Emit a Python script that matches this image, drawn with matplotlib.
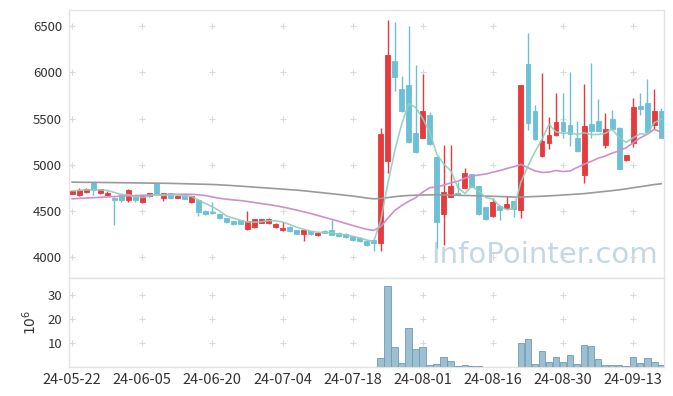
import numpy as np
import pandas as pd
import matplotlib
matplotlib.use("Agg")
import matplotlib.pyplot as plt

plt.rcParams['font.family'] = ['Noto Sans CJK KR', 'DejaVu Sans']

# ---------------- data ----------------
tick_labels = ["24-05-22", "24-06-05", "24-06-20", "24-07-04", "24-07-18",
               "24-08-01", "24-08-16", "24-08-30", "24-09-13"]
tick_index = [0, 10, 20, 30, 40, 50, 60, 70, 80]

open_ = [4686, 4668, 4704, 4805, 4690, 4668, 4639, 4682, 4621, 4668,
         4592, 4657, 4801, 4646, 4693, 4646, 4668, 4592, 4621, 4504,
         4490, 4464, 4420, 4390, 4398, 4310, 4325, 4369, 4372, 4325,
         4292, 4332, 4292, 4255, 4281, 4237, 4281, 4299, 4263, 4255,
         4226, 4208, 4171, 4182, 4151, 5045, 6122, 5819, 5862, 5347,
         5293, 5538, 5088, 4465, 4656, 4692, 4753, 4895, 4770, 4540,
         4443, 4558, 4533, 4605, 4514, 6090, 5583, 5090, 5241, 5317,
         5464, 5432, 5295, 4892, 5443, 5475, 5216, 5496, 5403, 5054,
         5234, 5637, 5673, 5432, 5586]
high = [4730, 4747, 4750, 4810, 4740, 4712, 4650, 4690, 4735, 4675,
        4665, 4700, 4805, 4700, 4700, 4670, 4675, 4665, 4630, 4510,
        4602, 4470, 4425, 4395, 4400, 4500, 4415, 4415, 4427, 4365,
        4380, 4340, 4296, 4305, 4285, 4270, 4290, 4398, 4270, 4260,
        4232, 4215, 4175, 4190, 5394, 6572, 6547, 5960, 6500, 6079,
        5978, 5574, 5090, 5214, 5214, 4818, 4962, 4905, 4775, 4545,
        4640, 4565, 4658, 4610, 5863, 6428, 5645, 5989, 5522, 5781,
        5781, 6007, 5470, 5871, 6097, 5709, 5558, 5594, 5410, 5060,
        5719, 5781, 5924, 5817, 5615]
low = [4680, 4660, 4700, 4675, 4680, 4660, 4350, 4592, 4596, 4600,
       4585, 4650, 4680, 4603, 4640, 4640, 4630, 4585, 4448, 4460,
       4470, 4415, 4375, 4350, 4355, 4292, 4320, 4365, 4354, 4320,
       4288, 4275, 4250, 4171, 4245, 4232, 4258, 4240, 4220, 4212,
       4175, 4165, 4120, 4069, 4072, 4908, 5798, 5575, 5240, 5125,
       5285, 5210, 4097, 4133, 4650, 4670, 4745, 4755, 4460, 4405,
       4440, 4407, 4530, 4440, 4425, 5378, 5270, 5080, 5170, 5310,
       5290, 5198, 5140, 4802, 5290, 5365, 5180, 5380, 4950, 5040,
       5190, 5535, 5355, 5385, 5290]
close = [4718, 4729, 4740, 4722, 4733, 4690, 4621, 4614, 4729, 4614,
         4657, 4693, 4686, 4693, 4646, 4664, 4635, 4657, 4484, 4471,
         4480, 4420, 4380, 4358, 4358, 4387, 4409, 4409, 4409, 4358,
         4318, 4281, 4255, 4299, 4252, 4263, 4263, 4245, 4226, 4219,
         4182, 4171, 4128, 4153, 5333, 6187, 5953, 5585, 5243, 5135,
         5585, 5221, 4386, 4710, 4775, 4674, 4908, 4760, 4468, 4417,
         4594, 4515, 4576, 4525, 5863, 5457, 5277, 5259, 5324, 5464,
         5371, 5331, 5144, 5421, 5371, 5371, 5389, 5385, 4957, 5108,
         5622, 5604, 5360, 5586, 5295]
# volume in millions
volume = [0, 0, 0, 0, 0, 0, 0, 0, 0, 0,
          0, 0, 0, 0, 0, 0, 0, 0, 0, 0,
          0, 0, 0, 0, 0, 0, 0, 0, 0, 0,
          0, 0, 0, 0, 0, 0, 0, 0, 0, 0,
          0, 0, 0, 0, 3.6, 33.7, 8.2, 1.5, 16.1, 7.4,
          8.2, 0.8, 1.1, 4.0, 2.5, 0.3, 0.7, 0.3, 0.3, 0.05,
          0.05, 0.05, 0.05, 0.05, 9.9, 11.5, 1.1, 6.7, 2.1, 4.0,
          2.0, 4.9, 1.1, 9.1, 8.7, 3.2, 0.7, 1.0, 0.8, 0.3,
          4.0, 1.5, 3.6, 2.0, 0.7]
# moving averages (20-day and long-term)
ma20 = [4632, 4636, 4640, 4644, 4648, 4652, 4656, 4660, 4664, 4667,
        4670, 4673, 4676, 4678, 4680, 4681, 4682, 4681, 4676, 4667,
        4652, 4637, 4628, 4620, 4613, 4603, 4592, 4580, 4569, 4558,
        4543, 4527, 4510, 4492, 4473, 4452, 4431, 4410, 4389, 4366,
        4344, 4322, 4302, 4290, 4330, 4420, 4505, 4560, 4605, 4645,
        4705, 4752, 4760, 4780, 4805, 4822, 4855, 4878, 4890, 4900,
        4920, 4938, 4960, 4980, 5005, 4968, 4934, 4917, 4921, 4938,
        4927, 4933, 4971, 5006, 5036, 5071, 5095, 5126, 5151, 5185,
        5237, 5291, 5330, 5383, 5355]
ma60 = [4812, 4811, 4810, 4810, 4809, 4808, 4807, 4806, 4805, 4804,
        4803, 4802, 4801, 4800, 4799, 4797, 4795, 4793, 4791, 4789,
        4787, 4783, 4779, 4774, 4769, 4764, 4758, 4753, 4748, 4742,
        4737, 4731, 4726, 4719, 4711, 4703, 4695, 4687, 4679, 4670,
        4662, 4652, 4640, 4632, 4635, 4645, 4655, 4663, 4668, 4671,
        4673, 4675, 4675, 4674, 4672, 4670, 4668, 4666, 4664, 4661,
        4659, 4657, 4654, 4651, 4650, 4654, 4657, 4660, 4664, 4668,
        4673, 4678, 4683, 4688, 4696, 4704, 4712, 4720, 4729, 4740,
        4752, 4763, 4774, 4786, 4795]

main_yticks = [4000, 4500, 5000, 5500, 6000, 6500]
vol_yticks = [10, 20, 30]

# ---------------- styles ----------------
UP = '#e8393c'
DOWN = '#6cc0d6'
MA5_C = '#8fcfbf'
MA20_C = '#cf8fca'
MA60_C = '#9a9a9a'
GRID_C = '#dadada'
SPINE_C = '#e3e3e3'
TEXT_C = '#333333'

o = np.array(open_, float)
h = np.array(high, float)
l = np.array(low, float)
c = np.array(close, float)
v = np.array(volume, float)
x = np.arange(len(c))
ma5 = pd.Series(c).rolling(5, min_periods=1).mean().values

fig = plt.figure(figsize=(6.73, 3.96), dpi=100)
L, W = 69 / 673, (664 - 69) / 673
ax1 = fig.add_axes([L, 1 - 278 / 396, W, (278 - 10) / 396])
ax2 = fig.add_axes([L, 1 - 367 / 396, W, (367 - 278) / 396], sharex=ax1)

up = c >= o
cols = np.where(up, UP, DOWN)
ax1.vlines(x, l, h, colors=cols, linewidth=1.0, zorder=2)
bottoms = np.minimum(o, c)
heights = np.abs(c - o)
ax1.bar(x, heights, bottom=bottoms, width=0.7, color=cols, edgecolor=cols,
        linewidth=0.6, zorder=3)

ax1.plot(x, ma60, color=MA60_C, lw=1.2, zorder=4)
ax1.plot(x, ma20, color=MA20_C, lw=1.2, zorder=4)
ax1.plot(x, ma5, color=MA5_C, lw=1.2, zorder=4, alpha=0.9)

ax1.set_ylim(3775, 6675)
ax1.set_xlim(-0.45, 84.4)
ax1.set_yticks(main_yticks)
ax1.set_yticklabels([str(t) for t in main_yticks])

ax2.bar(x, v, width=0.95, color='#9cbfd1', edgecolor='#6c9cb6', linewidth=0.6,
        zorder=3)
ax2.set_ylim(0, 37)
ax2.set_yticks(vol_yticks)
ax2.set_yticklabels([str(t) for t in vol_yticks])
ax2.set_ylabel(r'$10^6$', fontsize=10, color=TEXT_C, labelpad=6)
ax2.set_xticks(tick_index)
ax2.set_xticklabels(tick_labels)

# "+" markers at tick intersections
for ax, yt in ((ax1, main_yticks), (ax2, vol_yticks)):
    gx, gy = np.meshgrid(tick_index, yt)
    ax.scatter(gx.ravel(), gy.ravel(), marker='+', s=16, color=GRID_C,
               linewidths=0.8, zorder=1)
    for s in ax.spines.values():
        s.set_color(SPINE_C)
        s.set_linewidth(1.0)
    ax.tick_params(length=0, colors=TEXT_C, labelsize=9.5, pad=5)

ax2.tick_params(axis='x', labelsize=10.5, pad=4)
plt.setp(ax1.get_xticklabels(), visible=False)

ax1.text(0.80, 0.085, 'InfoPointer.com', transform=ax1.transAxes,
         ha='center', va='center', fontsize=21, color='#c4d8e3',
         family=['Liberation Sans Narrow', 'DejaVu Sans'], zorder=0)

fig.savefig('out.png', dpi=100)
